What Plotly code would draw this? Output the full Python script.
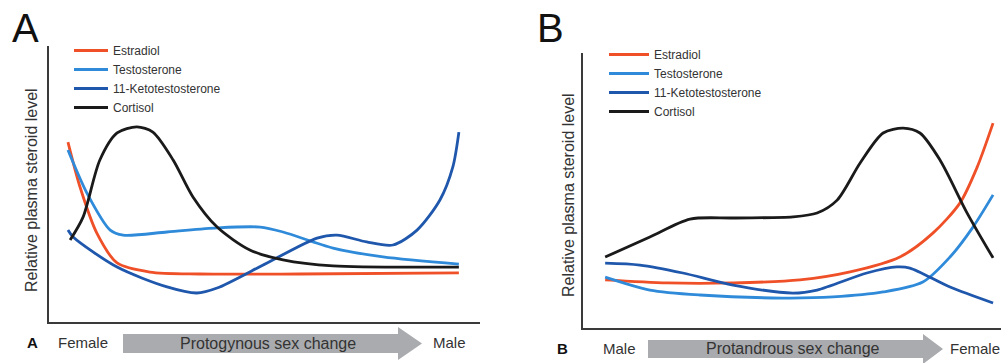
import plotly.graph_objects as go

# ---------------- Data (relative levels, arbitrary units 0-100; time 0-100) ----------------
series_names = ["Estradiol", "Testosterone", "11-Ketotestosterone", "Cortisol"]
colors = ["#EF5028", "#2F8BD9", "#1F57AC", "#1A1A1A"]

# Panel A: protogynous sex change (Female -> Male)
a_e2_t = [4.4, 7.2, 11.1, 15.8, 23.4, 35.0, 58.2, 95.1]
a_e2_v = [65.2, 48.9, 32.2, 21.4, 18.1, 17.4, 17.4, 17.8]
a_t_t = [4.4, 8.8, 14.2, 17.2, 27.4, 39.0, 49.0, 54.3, 65.9, 77.5, 95.1]
a_t_v = [62.3, 46.7, 33.3, 31.5, 32.6, 34.1, 34.4, 32.6, 26.8, 23.6, 21.0]
a_kt_t = [4.4, 5.6, 15.8, 27.4, 34.3, 39.0, 50.6, 62.2, 66.8, 73.7, 79.8, 85.4, 90.7, 93.7, 95.1]
a_kt_v = [33.3, 30.8, 19.9, 12.7, 10.5, 12.3, 21.4, 30.4, 31.5, 29.0, 27.9, 33.3, 44.2, 56.2, 68.8]
a_c_t = [4.9, 7.9, 11.8, 15.8, 20.4, 24.1, 28.8, 33.4, 39.0, 46.6, 54.3, 65.9, 95.1]
a_c_v = [29.7, 38.0, 58.7, 68.5, 70.7, 68.8, 58.7, 45.3, 34.4, 26.1, 22.5, 20.3, 19.9]

# Panel B: protandrous sex change (Male -> Female)
b_e2_t = [5.3, 20.1, 35.9, 51.9, 63.9, 75.8, 83.7, 90.2, 94.3, 98.1]
b_e2_v = [17.5, 16.4, 16.4, 17.5, 20.4, 25.8, 34.5, 45.5, 58.5, 74.5]
b_t_t = [5.3, 16.0, 28.0, 47.8, 59.8, 71.8, 81.3, 87.8, 93.3, 98.1]
b_t_v = [18.5, 13.8, 12.0, 10.9, 11.3, 13.1, 16.7, 25.8, 36.7, 48.4]
b_kt_t = [5.3, 13.6, 23.9, 35.9, 50.2, 56.0, 67.9, 75.1, 78.2, 87.8, 98.1]
b_kt_v = [23.6, 22.9, 20.0, 15.6, 12.7, 13.8, 20.0, 22.2, 21.8, 14.9, 9.1]
b_c_t = [5.3, 16.0, 25.6, 35.9, 50.2, 56.0, 60.8, 66.3, 71.8, 76.6, 80.6, 85.4, 91.9, 98.1]
b_c_v = [25.8, 33.1, 39.6, 40.0, 40.4, 41.8, 46.5, 60.0, 70.9, 72.7, 70.9, 61.1, 41.8, 25.5]

panel_a = [(a_e2_t, a_e2_v), (a_t_t, a_t_v), (a_kt_t, a_kt_v), (a_c_t, a_c_v)]
panel_b = [(b_e2_t, b_e2_v), (b_t_t, b_t_v), (b_kt_t, b_kt_v), (b_c_t, b_c_v)]

W, H = 1001, 363
FONT = "Liberation Sans, Arial, sans-serif"
TXT = "#333333"

def px(x):
    return x / W

def py(y):
    return 1 - y / H

fig = go.Figure()

for i, (t, v) in enumerate(panel_a):
    fig.add_trace(go.Scatter(x=t, y=v, mode="lines", name=series_names[i],
                             line=dict(color=colors[i], width=2.8, shape="spline", smoothing=0.8),
                             xaxis="x", yaxis="y", legend="legend"))
for i, (t, v) in enumerate(panel_b):
    fig.add_trace(go.Scatter(x=t, y=v, mode="lines", name=series_names[i],
                             line=dict(color=colors[i], width=2.8, shape="spline", smoothing=0.8),
                             xaxis="x2", yaxis="y2", legend="legend2"))

axis_common = dict(showgrid=False, zeroline=False, showticklabels=False, ticks="",
                   showline=True, linecolor="#3a3a3a", linewidth=1.5, range=[0, 100], fixedrange=True)

fig.update_layout(
    width=W, height=H,
    margin=dict(l=0, r=0, t=0, b=0),
    paper_bgcolor="white", plot_bgcolor="white",
    font=dict(family=FONT, color=TXT),
    xaxis=dict(domain=[px(49), px(480)], anchor="y", **axis_common),
    yaxis=dict(domain=[py(322), py(46)], anchor="x", **axis_common),
    xaxis2=dict(domain=[px(583), 1.0], anchor="y2", **axis_common),
    yaxis2=dict(domain=[py(328), py(53)], anchor="x2", **axis_common),
    legend=dict(x=px(69), y=py(36), xanchor="left", yanchor="top", bgcolor="rgba(0,0,0,0)",
                font=dict(size=12, color=TXT, family=FONT), itemwidth=34, tracegroupgap=0),
    legend2=dict(x=px(604), y=py(40), xanchor="left", yanchor="top", bgcolor="rgba(0,0,0,0)",
                 font=dict(size=12, color=TXT, family=FONT), itemwidth=40, tracegroupgap=0),
    showlegend=True,
)

# Arrows
def arrow(x0, x1, xh, yc, body_h, head_h):
    yb0, yb1 = yc - body_h / 2, yc + body_h / 2
    yh0, yh1 = yc - head_h / 2, yc + head_h / 2
    path = (f"M {px(x0)},{py(yb0)} L {px(xh)},{py(yb0)} L {px(xh)},{py(yh0)} "
            f"L {px(x1)},{py(yc)} L {px(xh)},{py(yh1)} L {px(xh)},{py(yb1)} L {px(x0)},{py(yb1)} Z")
    fig.add_shape(type="path", path=path, xref="paper", yref="paper",
                  fillcolor="#A9ABAE", line=dict(width=0), layer="below")

arrow(123, 422, 398, 343.5, 19, 33)
arrow(648, 943, 923, 349, 18, 30)

annotations = [
    dict(text="A", x=px(25), y=py(28), font=dict(size=40, color="#111")),
    dict(text="B", x=px(550), y=py(28), font=dict(size=40, color="#111")),
    dict(text="Relative plasma steroid level", x=px(32), y=py(190), textangle=-90,
         font=dict(size=16, color=TXT)),
    dict(text="Relative plasma steroid level", x=px(568), y=py(195), textangle=-90,
         font=dict(size=16, color=TXT)),
    dict(text="<b>A</b>", x=px(32), y=py(342), font=dict(size=15, color="#111")),
    dict(text="Female", x=px(83), y=py(342), font=dict(size=15, color=TXT)),
    dict(text="Protogynous sex change", x=px(268), y=py(343), font=dict(size=16, color=TXT)),
    dict(text="Male", x=px(449), y=py(342), font=dict(size=15, color=TXT)),
    dict(text="<b>B</b>", x=px(562), y=py(348), font=dict(size=15, color="#111")),
    dict(text="Male", x=px(619), y=py(348), font=dict(size=15, color=TXT)),
    dict(text="Protandrous sex change", x=px(793), y=py(348), font=dict(size=16, color=TXT)),
    dict(text="Female", x=px(948), y=py(348), xanchor="left", font=dict(size=15, color=TXT)),
]
for a in annotations:
    a.setdefault("xref", "paper")
    a.setdefault("yref", "paper")
    a.setdefault("showarrow", False)
    a.setdefault("xanchor", "center")
    a.setdefault("yanchor", "middle")
    a["font"].setdefault("family", FONT)
    fig.add_annotation(**a)

fig.write_html("out.html")
